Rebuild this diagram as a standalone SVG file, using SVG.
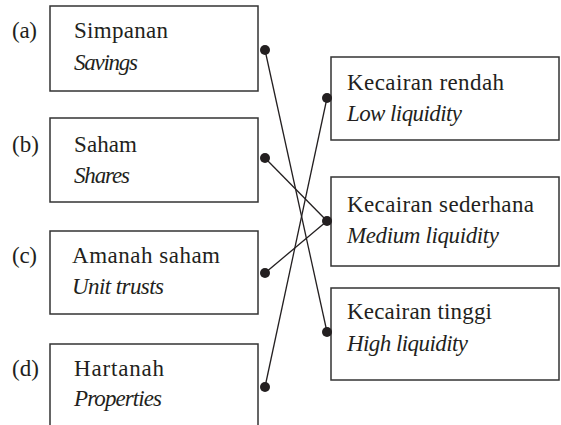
<svg xmlns="http://www.w3.org/2000/svg" width="561" height="425" viewBox="0 0 561 425" font-family="Liberation Serif, Times New Roman, serif">
<style>
.box{fill:#fff;stroke:#333;stroke-width:1.5}
text{font-family:"Liberation Serif","Times New Roman",serif;font-size:23px;fill:#231f20}
.it{font-style:italic}
.con line{stroke:#231f20;stroke-width:1.3}
.dot{fill:#231f20}
</style>
<rect width="561" height="425" fill="#fff"/>
<g id="node-a">
<text x="12" y="38" textLength="25">(a)</text>
<rect class="box" x="50" y="6" width="208" height="85"/>
<text x="74" y="38" textLength="94">Simpanan</text>
<text class="it" x="74" y="70" textLength="64">Savings</text>
</g>
<g id="node-b">
<text x="12" y="152" textLength="27">(b)</text>
<rect class="box" x="50" y="118" width="208" height="84"/>
<text x="74" y="152" textLength="63">Saham</text>
<text class="it" x="74" y="183" textLength="56">Shares</text>
</g>
<g id="node-c">
<text x="12" y="263" textLength="25">(c)</text>
<rect class="box" x="50" y="231" width="208" height="83"/>
<text x="72" y="263" textLength="148">Amanah saham</text>
<text class="it" x="72" y="294" textLength="92">Unit trusts</text>
</g>
<g id="node-d">
<text x="12" y="376" textLength="27">(d)</text>
<rect class="box" x="50" y="344" width="208" height="90"/>
<text x="74" y="376" textLength="90">Hartanah</text>
<text class="it" x="74" y="406" textLength="88">Properties</text>
</g>
<g id="node-low">
<rect class="box" x="331" y="57" width="228" height="83"/>
<text x="347" y="90" textLength="157">Kecairan rendah</text>
<text class="it" x="347" y="121" textLength="115">Low liquidity</text>
</g>
<g id="node-medium">
<rect class="box" x="331" y="177" width="228" height="89"/>
<text x="347" y="212" textLength="187">Kecairan sederhana</text>
<text class="it" x="347" y="243" textLength="152">Medium liquidity</text>
</g>
<g id="node-high">
<rect class="box" x="331" y="288" width="228" height="92"/>
<text x="347" y="319" textLength="145">Kecairan tinggi</text>
<text class="it" x="347" y="351" textLength="121">High liquidity</text>
</g>
<g id="connectors" class="con">
<line x1="265" y1="50" x2="327" y2="332"/>
<line x1="265" y1="158" x2="327" y2="221"/>
<line x1="265" y1="273" x2="327" y2="221"/>
<line x1="265" y1="387" x2="327" y2="98"/>
<circle class="dot" cx="265" cy="50" r="5"/>
<circle class="dot" cx="265" cy="158" r="5"/>
<circle class="dot" cx="265" cy="273" r="5"/>
<circle class="dot" cx="265" cy="387" r="5"/>
<circle class="dot" cx="327" cy="98" r="5"/>
<circle class="dot" cx="327" cy="221" r="5"/>
<circle class="dot" cx="327" cy="332" r="5"/>
</g>
</svg>
